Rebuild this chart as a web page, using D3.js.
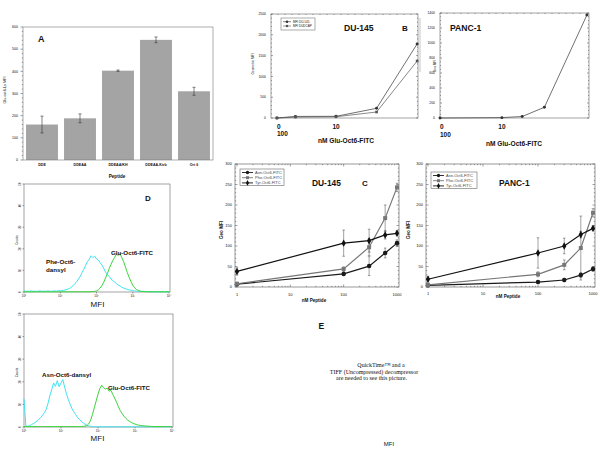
<!DOCTYPE html>
<html><head><meta charset="utf-8">
<script src="https://cdn.jsdelivr.net/npm/d3@7"></script>
<style>
body{margin:0;background:#fff}
svg{display:block}
text{font-family:"Liberation Sans",Arial,sans-serif;fill:#111}
</style>
</head><body>
<svg id="c" width="600" height="450"></svg>
<script>
// ---------------- DATA ----------------
// Panel A
const A_categories = ["DDE", "DDEAA", "DDEAA/KH", "DDEAA-Ktrb", "Ort 6"];
const A_values = [160, 188, 403, 542, 310];
const A_errors = [38, 20, 3, 13, 18];
const A_yTicks = [0, 100, 200, 300, 400, 500, 600];

// Panel B
const B_DU_conc = [0, 1, 10, 100, 1000];
const B_DU_names = ["MFI DU-145", "MFI DUDCAP"];
const B_DU_s1 = [0, 38, 40, 233, 1780];
const B_DU_s2 = [0, 22, 30, 144, 1370];
const B_DU_yTicks = [0, 500, 1000, 1500, 2000, 2500];
const B_PANC_conc = [0, 10, 30, 100, 1000];
const B_PANC_vals = [0, 5, 20, 143, 1373];
const B_PANC_yTicks = [0, 200, 400, 600, 800, 1000, 1200, 1400];
const B_xTickValues = [0, 10];
const B_xTickLabels = ["0", "10"];
const B_xTickLabels2 = ["100", ""];
const B_zeroAt = 0.35; // where "0 nM" sits on the log axis

// Panel C
const C_conc = [1, 100, 300, 600, 1000];
const C_names = ["Asn-Oct6-FITC", "Phe-Oct6-FITC", "Tyr-Oct6-FITC"];
const C_xTicks = [1, 10, 100, 1000];
const C_yTicks = [0, 50, 100, 150, 200, 250, 300];
const C_DU_asn = [7, 32, 51, 83, 107];
const C_DU_asn_err = [3, 4, 23, 12, 8];
const C_DU_phe = [8, 44, 97, 168, 243];
const C_DU_phe_err = [3, 5, 20, 32, 10];
const C_DU_tyr = [38, 107, 113, 127, 131];
const C_DU_tyr_err = [9, 32, 28, 10, 6];
const C_PANC_asn = [4, 12, 17, 29, 44];
const C_PANC_asn_err = [2, 3, 4, 6, 6];
const C_PANC_phe = [5, 31, 54, 95, 181];
const C_PANC_phe_err = [2, 6, 12, 78, 10];
const C_PANC_tyr = [19, 83, 100, 128, 143];
const C_PANC_tyr_err = [7, 37, 19, 8, 6];

// Panel D (flow histograms, channels 10^0 .. 10^4, step 10^0.05)
const D_channels = d3.range(81).map(i => Math.pow(10, i * 0.05));
const D_yTicks = [0, 10, 20, 30, 40, 50];
const D_xTicks = [1, 10, 100, 1000, 10000];
const D_xTickLabels = ["10\u2070", "10\u00b9", "10\u00b2", "10\u00b3", "10\u2074"];
const D1_phe = [0.5,0.3,0.4,0.3,0.5,0.3,0.4,0.3,0.4,0.5,0.3,0.4,0.3,0.5,0.4,0.3,0.4,0.5,0.4,0.6,0.5,0.7,0.8,
  1.0,1.3,1.6,2.2,2.9,3.8,4.6,6.0,7.2,9.0,10.5,12.4,14.0,15.2,16.8,15.9,16.6,15.3,14.8,13.6,12.5,11.0,9.2,8.1,7.2,6.0,5.3,4.6,3.9,3.2,2.8,2.2,1.8,1.5,1.2,1.0,0.8,0.6,
  0.5,0.4,0.4,0.3,0.3,0.3,0.2,0.2,0.2,0.2,0.1,0.1,0.1,0.1,0.1,0.1,0.1,0.1,0.1,0.1];
const D1_glu = [0.1,0.1,0.1,0.1,0.1,0.1,0.1,0.1,0.1,0.1,0.1,0.1,0.1,0.1,0.1,0.1,0.1,0.1,0.1,0.1,0.1,0.1,0.1,0.1,0.1,0.1,0.1,0.1,0.1,0.1,0.1,0.1,0.1,0.1,0.1,0.1,0.1,0.2,0.2,0.3,
  0.5,1.0,1.8,3.0,4.5,6.5,8.5,10.8,12.8,14.6,16.0,17.6,16.9,17.8,15.8,14.0,11.5,9.0,6.8,4.8,3.2,2.0,1.2,0.7,0.4,
  0.2,0.2,0.2,0.1,0.1,0.1,0.1,0.1,0.1,0.1,0.1,0.1,0.1,0.1,0.1,0.1];
const D2_asn = [12.5,0.5,0.3,0.6,1.0,1.5,2.0,2.6,3.4,4.2,5.2,6.3,7.8,10.5,14.0,16.5,19.5,18.0,20.5,17.8,19.5,21.0,17.5,14.5,12.0,10.0,8.0,6.6,5.4,4.2,3.3,2.5,1.8,1.2,0.8,0.5,0.3,
  0.1,0.1,0.1,0.1,0.1,0.1,0.1,0.1,0.1,0.1,0.1,0.1,0.1,0.1,0.1,0.1,0.1,0.1,0.1,0.1,0.1,0.1,0.1,0.1,0.1,0.1,0.1,0.1,0.1,0.1,0.1,0.1,0.1,0.1,0.1,0.1,0.1,0.1,0.1,0.1,0.1,0.1,0.1,0.1];
const D2_glu = [0.2,0.2,0.2,0.2,0.2,0.2,0.2,0.2,0.2,0.2,0.2,0.2,0.2,0.2,0.2,0.2,0.2,0.2,0.2,0.2,0.2,0.2,0.2,0.2,0.2,0.2,0.2,0.2,0.2,0.2,0.2,0.2,0.3,0.4,
  0.6,1.4,3.0,5.5,8.5,11.5,14.5,17.0,18.5,17.4,16.8,17.2,15.8,16.2,14.4,12.8,11.0,9.0,7.3,6.0,4.8,3.9,3.1,2.5,2.0,1.6,1.3,1.0,0.8,0.7,0.6,0.5,0.4,0.4,0.3,
  0.2,0.2,0.2,0.2,0.2,0.2,0.2,0.2,0.2,0.2,0.2,0.2];

// ---------------- DRAWING ----------------
const svg = d3.select("#c");
svg.append("rect").attr("width", 600).attr("height", 450).attr("fill", "#fff");

function text(g, x, y, s, size, opts = {}) {
  const t = g.append("text").attr("x", x).attr("y", y).text(s)
    .attr("font-size", size)
    .attr("text-anchor", opts.anchor || "start")
    .attr("font-weight", opts.bold ? "bold" : "normal");
  if (opts.family) t.style("font-family", opts.family);
  if (opts.rotate) t.attr("transform", `rotate(-90,${x},${y})`);
  if (opts.fill) t.style("fill", opts.fill);
  return t;
}
function frame(g, x0, y0, x1, y1, col = "#555") {
  g.append("rect").attr("x", x0).attr("y", y0).attr("width", x1 - x0).attr("height", y1 - y0)
    .attr("fill", "none").attr("stroke", col).attr("stroke-width", 0.6);
}
function line(g, x1, y1, x2, y2, col = "#555", w = 0.5) {
  g.append("line").attr("x1", x1).attr("y1", y1).attr("x2", x2).attr("y2", y2)
    .attr("stroke", col).attr("stroke-width", w);
}

// ---- Panel A ----
(function () {
  const g = svg.append("g");
  const x = d3.scaleBand().domain(A_categories).range([23, 213]).paddingInner(0.16).paddingOuter(0.08);
  const y = d3.scaleLinear().domain([0, 600]).range([160, 27]);
  g.selectAll("rect.bar").data(A_values).join("rect").attr("class", "bar")
    .attr("x", (d, i) => x(A_categories[i])).attr("y", d => y(d))
    .attr("width", x.bandwidth()).attr("height", d => y(0) - y(d)).attr("fill", "#a4a4a4");
  A_values.forEach((v, i) => {
    const cx = x(A_categories[i]) + x.bandwidth() / 2;
    line(g, cx, y(v - A_errors[i]), cx, y(v + A_errors[i]), "#333", 0.6);
    line(g, cx - 1.5, y(v + A_errors[i]), cx + 1.5, y(v + A_errors[i]), "#333", 0.6);
    line(g, cx - 1.5, y(v - A_errors[i]), cx + 1.5, y(v - A_errors[i]), "#333", 0.6);
  });
  frame(g, 23, 27, 213, 160, "#777");
  d3.range(0, 601, 20).forEach(t => line(g, 23, y(t), t % 100 === 0 ? 20.5 : 21.8, y(t), "#444", 0.5));
  A_yTicks.forEach(t => text(g, 18, y(t) + 1.3, t, 3.6, { anchor: "end" }));
  A_categories.forEach(c => text(g, x(c) + x.bandwidth() / 2, 166, c, 3.6, { anchor: "middle", bold: true }));
  text(g, 117, 177.5, "Peptide", 4.6, { anchor: "middle", bold: true });
  text(g, 6, 90, "Glu-oct6-Ls MFI", 3.8, { anchor: "middle", rotate: true });
  text(g, 38, 42, "A", 9, { bold: true });
})();

// ---- Panel B ----
function drawB(cfg) {
  const g = svg.append("g");
  const x = d3.scaleLog().domain(cfg.xDomain).range([cfg.x0, cfg.x1]);
  const y = d3.scaleLinear().domain([0, cfg.yMax]).range([cfg.y1, cfg.y0]);
  const px = c => x(c === 0 ? B_zeroAt : c);
  frame(g, cfg.x0, cfg.y0, cfg.x1, cfg.y1, "#666");
  d3.range(0, cfg.yMax + 1, cfg.minor).forEach(t => line(g, cfg.x0, y(t), cfg.x0 + (t % cfg.major === 0 ? 2 : 1), y(t), "#444", 0.5));
  d3.range(0, cfg.yMax + 1, cfg.minor).forEach(t => line(g, cfg.x1, y(t), cfg.x1 - (t % cfg.major === 0 ? 2 : 1), y(t), "#444", 0.5));
  cfg.yTicks.forEach(t => text(g, cfg.x0 - 5, y(t) + 1.2, t, 3.4, { anchor: "end" }));
  d3.range(cfg.x0, cfg.x1, 7).forEach(xx => line(g, xx, cfg.y0, xx, cfg.y0 + 1, "#444", 0.5));
  cfg.series.forEach((s, k) => {
    const ln = d3.line().x((d, i) => px(cfg.conc[i])).y(d => y(d));
    g.append("path").attr("d", ln(s.vals)).attr("fill", "none").attr("stroke", s.color).attr("stroke-width", 0.7);
    g.selectAll(null).data(s.vals).join("path")
      .attr("transform", (d, i) => `translate(${px(cfg.conc[i])},${y(d)})`)
      .attr("d", d3.symbol().type(s.shape).size(7)()).attr("fill", s.color);
  });
  B_xTickValues.forEach((v, i) => {
    text(g, px(v), cfg.tickY, B_xTickLabels[i], 6.5, { anchor: i === 0 ? "start" : "middle", bold: true });
    if (B_xTickLabels2[i]) text(g, px(v), cfg.tickY2, B_xTickLabels2[i], 6.5, { anchor: "start", bold: true });
  });
  text(g, cfg.titleX, cfg.titleY, "nM Glu-Oct6-FITC", 6.6, { anchor: "middle", bold: true });
  text(g, cfg.yLabX, cfg.yLabY, cfg.yLabel, 3.2, { anchor: "middle", rotate: true });
  text(g, cfg.nameX, cfg.nameY, cfg.name, 8.6, { bold: true });
  if (cfg.legend) {
    const lg = g.append("g");
    frame(lg, cfg.legend.x, cfg.legend.y, cfg.legend.x + 34, cfg.legend.y + 12, "#777");
    cfg.series.forEach((s, k) => {
      const yy = cfg.legend.y + 3.7 + k * 4.3;
      line(lg, cfg.legend.x + 2, yy, cfg.legend.x + 10, yy, s.color, 0.6);
      lg.append("path").attr("transform", `translate(${cfg.legend.x + 6},${yy})`)
        .attr("d", d3.symbol().type(s.shape).size(5)()).attr("fill", s.color);
      text(lg, cfg.legend.x + 12, yy + 1.1, s.name, 3, {});
    });
  }
  return g;
}
drawB({
  x0: 271, x1: 418, y0: 14, y1: 118, xDomain: [0.25, 1050], yMax: 2500, major: 500, minor: 100,
  yTicks: B_DU_yTicks, conc: B_DU_conc,
  series: [
    { name: B_DU_names[0], vals: B_DU_s1, color: "#333", shape: d3.symbolCircle },
    { name: B_DU_names[1], vals: B_DU_s2, color: "#555", shape: d3.symbolSquare }
  ],
  tickY: 128.5, tickY2: 135.5, titleX: 346, titleY: 143, yLabX: 254, yLabY: 64, yLabel: "Geometric MFI",
  name: "DU-145", nameX: 344, nameY: 31, legend: { x: 281, y: 18 }
});
drawB({
  x0: 440, x1: 589, y0: 13, y1: 118, xDomain: [0.35, 1120], yMax: 1400, major: 200, minor: 50,
  yTicks: B_PANC_yTicks, conc: B_PANC_conc,
  series: [{ name: "PANC-1", vals: B_PANC_vals, color: "#333", shape: d3.symbolCircle }],
  tickY: 129, tickY2: 137, titleX: 514, titleY: 145.5, yLabX: 436, yLabY: 66, yLabel: "Geo MFI",
  name: "PANC-1", nameX: 450, nameY: 31
});
text(svg, 402, 31, "B", 8, { bold: true });
line(svg, 420, 18, 420, 72, "#888", 0.5);

// ---- Panel C ----
function drawC(cfg) {
  const g = svg.append("g");
  const x = d3.scaleLog().domain([1, 1000]).range([cfg.x0 + 2, cfg.x1 - 2]);
  const y = d3.scaleLinear().domain([0, 300]).range([cfg.y1, cfg.y0]);
  frame(g, cfg.x0, cfg.y0, cfg.x1, cfg.y1, "#555");
  d3.range(0, 301, 10).forEach(t => {
    const len = t % 50 === 0 ? 2.5 : 1.2;
    line(g, cfg.x0, y(t), cfg.x0 + len, y(t), "#444", 0.5);
    line(g, cfg.x1, y(t), cfg.x1 - len, y(t), "#444", 0.5);
  });
  [1, 10, 100].forEach(dec => d3.range(1, 10).forEach(m => {
    const v = dec * m, len = m === 1 ? 2.5 : 1.2;
    line(g, x(v), cfg.y1, x(v), cfg.y1 - len, "#444", 0.5);
    line(g, x(v), cfg.y0, x(v), cfg.y0 + len, "#444", 0.5);
  }));
  C_yTicks.forEach(t => text(g, cfg.x0 - 3, y(t) + 1.4, t, 4, { anchor: "end" }));
  C_xTicks.forEach(t => text(g, x(t), cfg.tickY, t, 4, { anchor: "middle" }));
  const series = [
    { vals: cfg.asn, err: cfg.asnE, color: "#1a1a1a", shape: d3.symbolCircle, size: 16 },
    { vals: cfg.phe, err: cfg.pheE, color: "#777", shape: d3.symbolSquare, size: 16 },
    { vals: cfg.tyr, err: cfg.tyrE, color: "#111", shape: d3.symbolDiamond, size: 16 }
  ];
  series.forEach(s => {
    s.vals.forEach((v, i) => {
      const cx = x(C_conc[i]);
      line(g, cx, y(v - s.err[i]), cx, y(v + s.err[i]), "#444", 0.5);
      line(g, cx - 1.3, y(v + s.err[i]), cx + 1.3, y(v + s.err[i]), "#444", 0.5);
      line(g, cx - 1.3, y(v - s.err[i]), cx + 1.3, y(v - s.err[i]), "#444", 0.5);
    });
  });
  series.forEach(s => {
    const ln = d3.line().x((d, i) => x(C_conc[i])).y(d => y(d));
    g.append("path").attr("d", ln(s.vals)).attr("fill", "none").attr("stroke", s.color).attr("stroke-width", 1.2);
    g.selectAll(null).data(s.vals).join("path")
      .attr("transform", (d, i) => `translate(${x(C_conc[i])},${y(d)})`)
      .attr("d", d3.symbol().type(s.shape).size(s.size)()).attr("fill", s.color);
  });
  const L = cfg.legend;
  frame(g, L.x, L.y, L.x + L.w, L.y + 16.5, "#666");
  series.forEach((s, k) => {
    const yy = L.y + 3.5 + k * 5.2;
    line(g, L.x + 2, yy, L.x + 13, yy, s.color, 0.9);
    g.append("path").attr("transform", `translate(${L.x + 7.5},${yy})`)
      .attr("d", d3.symbol().type(s.shape).size(9)()).attr("fill", s.color);
    text(g, L.x + 15, yy + 1.4, C_names[k], 4, { fill: "#444" });
  });
  text(g, cfg.yLabX, 230, "Geo MFI", 4.6, { anchor: "middle", rotate: true, bold: true });
  text(g, cfg.xLabX, cfg.xLabY, "nM Peptide", 4.6, { anchor: "middle", bold: true });
  text(g, cfg.nameX, 186, cfg.name, 8.4, { bold: true });
}
drawC({
  x0: 235, x1: 399, y0: 164, y1: 287,
  asn: C_DU_asn, asnE: C_DU_asn_err, phe: C_DU_phe, pheE: C_DU_phe_err, tyr: C_DU_tyr, tyrE: C_DU_tyr_err,
  tickY: 296, legend: { x: 240, y: 169, w: 44 }, yLabX: 223, xLabX: 314, xLabY: 302,
  name: "DU-145", nameX: 312
});
drawC({
  x0: 426, x1: 595, y0: 164, y1: 287,
  asn: C_PANC_asn, asnE: C_PANC_asn_err, phe: C_PANC_phe, pheE: C_PANC_phe_err, tyr: C_PANC_tyr, tyrE: C_PANC_tyr_err,
  tickY: 295, legend: { x: 431, y: 172, w: 46 }, yLabX: 410, xLabX: 508, xLabY: 297.5,
  name: "PANC-1", nameX: 499
});
text(svg, 362, 186, "C", 8, { bold: true });
text(svg, 318.5, 329, "E", 8.5, { bold: true });

// ---- Panel D ----
function drawD(cfg) {
  const g = svg.append("g");
  const x = d3.scaleLog().domain([1, 10000]).range([cfg.x0, cfg.x1 - 1]);
  const y = d3.scaleLinear().domain([0, 50]).range([cfg.y1, cfg.y0]);
  frame(g, cfg.x0, cfg.y0, cfg.x1, cfg.y1, "#666");
  D_yTicks.forEach(t => {
    line(g, cfg.x0, y(t), cfg.x0 - 1.5, y(t), "#444", 0.5);
    text(g, cfg.x0 - 3, y(t), t, 3, { anchor: "middle", rotate: true });
  });
  D_xTicks.forEach((t, i) => {
    line(g, x(t), cfg.y1, x(t), cfg.y1 + 1.5, "#444", 0.5);
    text(g, x(t), cfg.y1 + 5, D_xTickLabels[i], 3, { anchor: "middle" });
  });
  text(g, 17.5, (cfg.y0 + cfg.y1) / 2 + 2, "Counts", 3, { anchor: "middle", rotate: true });
  cfg.series.forEach(s => {
    const ln = d3.line().x((d, i) => x(D_channels[i])).y(d => y(d));
    g.append("path").attr("d", ln(s.vals)).attr("fill", "none").attr("stroke", s.color).attr("stroke-width", 1);
  });
  text(g, 97.5, cfg.mfiY, "MFI", 8, { anchor: "middle" });
}
drawD({ x0: 24, x1: 170, y0: 184, y1: 292, mfiY: 306.5,
  series: [{ vals: D1_phe, color: "#3fe3f0" }, { vals: D1_glu, color: "#3ad43a" }] });
drawD({ x0: 24, x1: 173, y0: 314, y1: 427, mfiY: 441,
  series: [{ vals: D2_asn, color: "#3fe3f0" }, { vals: D2_glu, color: "#3ad43a" }] });
text(svg, 46, 264, "Phe-Oct6-", 6.2, { bold: true });
text(svg, 46, 272, "dansyl", 6.2, { bold: true });
text(svg, 111, 255, "Glu-Oct6-FITC", 6.2, { bold: true });
text(svg, 42, 377, "Asn-Oct6-dansyl", 6.2, { bold: true });
text(svg, 108, 390, "Glu-Oct6-FITC", 6.2, { bold: true });
text(svg, 145, 201, "D", 8, { bold: true });

// ---- Placeholder text (E area) ----
const serif = '"Liberation Serif","Times New Roman",serif';
text(svg, 381, 367, "QuickTime\u2122 and a", 6, { anchor: "middle", family: serif });
text(svg, 374, 374, "TIFF (Uncompressed) decompressor", 6, { anchor: "middle", family: serif });
text(svg, 371.5, 380, "are needed to see this picture.", 6, { anchor: "middle", family: serif });
text(svg, 389, 446, "MFI", 6, { anchor: "middle" });
</script>
</body></html>
